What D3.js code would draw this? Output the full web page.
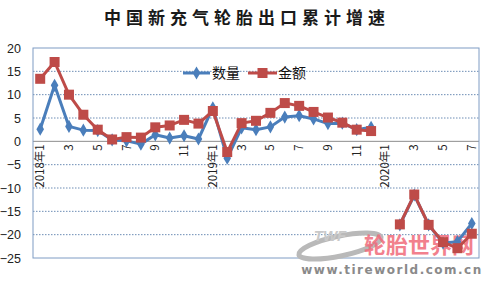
<!DOCTYPE html>
<html><head><meta charset="utf-8">
<script src="https://cdn.jsdelivr.net/npm/d3@7"></script>
<style>
html,body{margin:0;padding:0;background:#fff;}
svg{display:block;font-family:"Liberation Sans","DejaVu Sans",sans-serif;}
</style></head>
<body><svg id="c" width="490" height="281"></svg>
<script>
const title = "中国新充气轮胎出口累计增速";
const categories = ["2018年1","2","3","4","5","6","7","8","9","10","11","12",
  "2019年1","2","3","4","5","6","7","8","9","10","11","12",
  "2020年1","2","3","4","5","6","7"];
const seriesNames = ["数量","金额"];
const quantity = [2.6,12.0,3.2,2.4,2.3,0.3,0.1,-0.6,1.4,0.7,1.2,0.5,
  7.2,-3.6,2.9,2.5,3.1,5.2,5.5,4.8,3.8,3.9,2.5,3.0,
  null,-17.9,-11.5,-17.9,-21.8,-21.5,-17.6];
const amount = [13.4,17.0,10.0,5.7,2.5,0.4,0.9,0.8,3.0,3.4,4.6,3.8,
  6.5,-2.3,3.9,4.4,6.1,8.2,7.6,6.3,5.1,4.0,2.5,2.2,
  null,-17.8,-11.4,-17.9,-21.6,-22.9,-19.8];
const yTicks = [-25,-20,-15,-10,-5,0,5,10,15,20];

const svg = d3.select("#c");
const L=33,R=479,T=48,B=258;
const x = d3.scaleBand().domain(d3.range(categories.length)).range([L,R]).padding(0);
const cx = i => x(i)+x.bandwidth()/2;
const y = d3.scaleLinear().domain([-25,20]).range([B,T]);

// title
svg.append("text").attr("x",247).attr("y",24).attr("text-anchor","middle")
  .style("font-family","'Noto Sans CJK SC',sans-serif").style("font-weight","bold")
  .style("font-size","17px").style("letter-spacing","5px").attr("fill","#1a1a1a").text(title);

// gridlines
svg.append("g").selectAll("line").data(yTicks.filter(v=>v!==0&&v!==20&&v!==-25)).join("line")
  .attr("x1",L).attr("x2",R).attr("y1",d=>y(d)).attr("y2",d=>y(d))
  .attr("stroke","#6d8db5").attr("stroke-width",1).attr("stroke-dasharray","1.5,1.5");
svg.append("line").attr("x1",L).attr("x2",R).attr("y1",y(0)).attr("y2",y(0))
  .attr("stroke","#8c8c8c").attr("stroke-width",1);
// plot border
svg.append("rect").attr("x",L).attr("y",T).attr("width",R-L).attr("height",B-T)
  .attr("fill","none").attr("stroke","#7e9cc4").attr("stroke-width",1);

// y labels
const yAxis = d3.axisLeft(y).tickValues(yTicks).tickSize(0).tickPadding(12);
const ya = svg.append("g").attr("transform",`translate(${L},0)`).call(yAxis);
ya.select(".domain").remove();
ya.selectAll("text").style("font-size","12.5px").attr("fill","#222")
  .style("font-family","'Liberation Sans',sans-serif");

// x labels (every other month)
const xa = svg.append("g");
xa.selectAll("text").data(d3.range(categories.length).filter(i=>i%2===0)).join("text")
  .attr("transform",i=>`translate(${cx(i)+4},${y(0)+3}) rotate(-90)`)
  .attr("text-anchor","end").style("font-size","11.5px").attr("fill","#222")
  .style("font-family","'Noto Sans CJK SC','Liberation Sans',sans-serif")
  .text(i=>categories[i]);

// watermark
const wm = svg.append("g");
wm.append("ellipse").attr("cx",340).attr("cy",246).attr("rx",42).attr("ry",10)
  .attr("transform","rotate(-12,340,246)").attr("fill","none").attr("stroke","#b9b9b9").attr("stroke-width",5);
wm.append("text").attr("x",330).attr("y",241).attr("text-anchor","middle")
  .style("font-size","15px").style("font-style","italic").style("font-weight","bold")
  .attr("fill","#c9c9c9").text("TWF");
wm.append("text").attr("x",419).attr("y",253).attr("text-anchor","middle")
  .style("font-family","'Noto Sans CJK SC',sans-serif").style("font-weight","bold")
  .style("font-size","22px").attr("fill","#f06a7a").attr("opacity",0.85).text("轮胎世界网");
wm.append("text").attr("x",392).attr("y",274).attr("text-anchor","middle")
  .style("font-family","'DejaVu Sans',sans-serif").style("font-weight","bold")
  .style("font-size","12px").style("letter-spacing","1.5px").attr("fill","#8a8a8a").text("www.tireworld.com.cn");

// series
const colors = ["#4a7ebb","#be4b48"];
const line = d3.line().defined(d=>d.v!=null).x(d=>cx(d.i)).y(d=>y(d.v));
[quantity, amount].forEach((arr,si)=>{
  const data = arr.map((v,i)=>({i,v}));
  svg.append("path").datum(data).attr("d",line).attr("fill","none")
    .attr("stroke",colors[si]).attr("stroke-width",3).attr("stroke-linejoin","round");
  const pts = data.filter(d=>d.v!=null);
  if(si===0){
    svg.append("g").selectAll("path").data(pts).join("path")
      .attr("d",d3.symbol(d3.symbolDiamond, 50)())
      .attr("transform",d=>`translate(${cx(d.i)},${y(d.v)})`)
      .attr("fill",colors[0]);
  } else {
    svg.append("g").selectAll("rect").data(pts).join("rect")
      .attr("x",d=>cx(d.i)-5).attr("y",d=>y(d.v)-5).attr("width",10).attr("height",10)
      .attr("fill",colors[1]);
  }
});

// legend
const lg = svg.append("g");
lg.append("line").attr("x1",183).attr("x2",210).attr("y1",73).attr("y2",73).attr("stroke",colors[0]).attr("stroke-width",3);
lg.append("path").attr("d",d3.symbol(d3.symbolDiamond,50)()).attr("transform","translate(196.5,73)").attr("fill",colors[0]);
lg.append("text").attr("x",212).attr("y",78).style("font-family","'Noto Sans CJK SC',sans-serif")
  .style("font-size","14px").attr("fill","#111").text(seriesNames[0]);
lg.append("line").attr("x1",248).attr("x2",277).attr("y1",73).attr("y2",73).attr("stroke",colors[1]).attr("stroke-width",3);
lg.append("rect").attr("x",257.5).attr("y",68).attr("width",10).attr("height",10).attr("fill",colors[1]);
lg.append("text").attr("x",278).attr("y",78).style("font-family","'Noto Sans CJK SC',sans-serif")
  .style("font-size","14px").attr("fill","#111").text(seriesNames[1]);
</script></body></html>
